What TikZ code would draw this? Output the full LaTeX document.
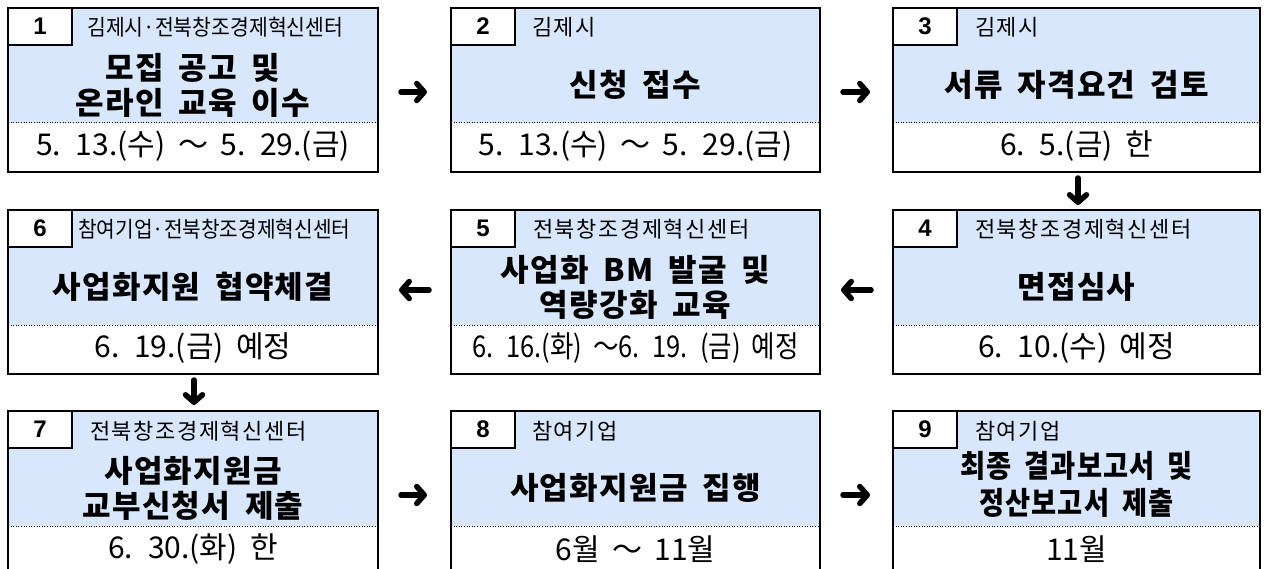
\documentclass[tikz,border=0pt]{standalone}
\usepackage{fontspec}
\setmainfont{Noto Sans CJK KR}
\newfontfamily\numfont{Liberation Sans}
\newfontfamily\hdfont[LetterSpace=7]{Noto Sans CJK KR}
\newfontfamily\hdfontN{Noto Sans CJK KR}
\newfontfamily\ttlfont[LetterSpace=4]{Noto Sans CJK KR}
\newfontfamily\datefont{Noto Sans CJK KR}
\usetikzlibrary{calc,arrows.meta}
\definecolor{boxblue}{RGB}{216,231,252}
\tikzset{
  boxbg/.style={rectangle, fill=boxblue, minimum height=164pt, inner sep=0pt, outer sep=0pt},
  boxline/.style={line width=2pt},
  dotline/.style={line width=1pt, dash pattern=on 1pt off 1.6pt},
  numbox/.style={rectangle, draw, line width=2pt, fill=white, minimum width=64pt, minimum height=37pt,
    inner sep=0pt, outer sep=0pt, font=\numfont\bfseries\fontsize{24}{24}\selectfont},
  headtxt/.style={inner sep=0pt, anchor=base west, font=\hdfont\fontsize{22}{22}\selectfont},
  titletxt/.style={inner sep=0pt, align=center,
    font={\ttlfont\bfseries\fontsize{31}{35}\selectfont\spaceskip=15pt\relax}},
  datetxt/.style={inner sep=0pt, font={\datefont\fontsize{30}{34}\selectfont\spaceskip=12.5pt\relax}},
  bigarrow/.style={line width=5.5pt, line cap=round, -{Straight Barb[length=7.5pt,width=17pt,round]}}
}
% #1 name, #2 left, #3 top, #4 width, #5 number, #6 header x offset, #7 header, #8 title, #9 date
\newcommand\stepbox[9]{%
  \node[boxbg, minimum width=#4pt, anchor=north west] (#1) at (#2,#3) {};
  \fill[white] ($(#1.north west)+(0,115)$) rectangle (#1.south east);
  \draw[dotline] ($(#1.north west)+(0,115)$) -- ($(#1.north east)+(0,115)$);
  \draw[boxline] (#1.north west) rectangle (#1.south east);
  \node[numbox, anchor=north west] (#1n) at (#1.north west) {#5};
  \node[headtxt] (#1h) at ($(#1.north west)+(#6,28)$) {#7};
  \node[titletxt] (#1t) at ($(#1.north west)+(#4/2,77)$) {#8};
  \node[datetxt] (#1d) at ($(#1.north west)+(#4/2,138)$) {#9};
}
\begin{document}
\begin{tikzpicture}[x=1pt,y=-1pt]
\useasboundingbox (0,0) rectangle (1265,569);
\clip (0,0) rectangle (1265,569);
\fill[white] (0,0) rectangle (1265,569);
% row 1
\stepbox{b1}{8}{8}{370}{1}{79}{\scalebox{0.93}[1]{\hdfontN 김제시·전북창조경제혁신센터}}{모집 공고 및\\온라인 교육 이수}{5. 13.(수) ～ 5. 29.(금)}
\stepbox{b2}{451}{8}{369}{2}{81}{김제시}{신청 접수}{5. 13.(수) ～ 5. 29.(금)}
\stepbox{b3}{893}{8}{367}{3}{82}{김제시}{서류 자격요건 검토}{6. 5.(금) 한}
% row 2
\stepbox{b6}{8}{210}{370}{6}{70}{\scalebox{0.92}[1]{\hdfontN 참여기업·전북창조경제혁신센터}}{사업화지원 협약체결}{6. 19.(금) 예정}
\stepbox{b5}{451}{210}{369}{5}{82}{전북창조경제혁신센터}{사업화 BM 발굴 및\\역량강화 교육}{\scalebox{0.85}[1]{6. 16.(화) ～6. 19. (금) 예정}}
\stepbox{b4}{893}{210}{367}{4}{82}{전북창조경제혁신센터}{면접심사}{6. 10.(수) 예정}
% row 3
\stepbox{b7}{8}{411}{370}{7}{82}{전북창조경제혁신센터}{사업화지원금\\교부신청서 제출}{6. 30.(화) 한}
\stepbox{b8}{451}{411}{369}{8}{81}{참여기업}{사업화지원금 집행}{6월 ～ 11월}
\stepbox{b9}{893}{411}{367}{9}{82}{참여기업}{\scalebox{0.88}[1]{\begin{tabular}{@{}c@{}}최종 결과보고서 및\\정산보고서 제출\end{tabular}}}{11월}
% arrows
\draw[bigarrow] ($(b1.east)+(23,2)$) -- ($(b2.west)+(-24,2)$);
\draw[bigarrow] ($(b2.east)+(23,2)$) -- ($(b3.west)+(-23,2)$);
\draw[bigarrow] ($(b3.south)+(1.5,6)$) -- ($(b4.north)+(1.5,-5)$);
\draw[bigarrow] ($(b4.west)+(-22,-2)$) -- ($(b5.east)+(21,-2)$);
\draw[bigarrow] ($(b5.west)+(-22,-2)$) -- ($(b6.east)+(21,-2)$);
\draw[bigarrow] ($(b6.south)+(1,6)$) -- ($(b7.north)+(1,-6)$);
\draw[bigarrow] ($(b7.east)+(23,2)$) -- ($(b8.west)+(-24,2)$);
\draw[bigarrow] ($(b8.east)+(23,2)$) -- ($(b9.west)+(-23,2)$);
\end{tikzpicture}
\end{document}
